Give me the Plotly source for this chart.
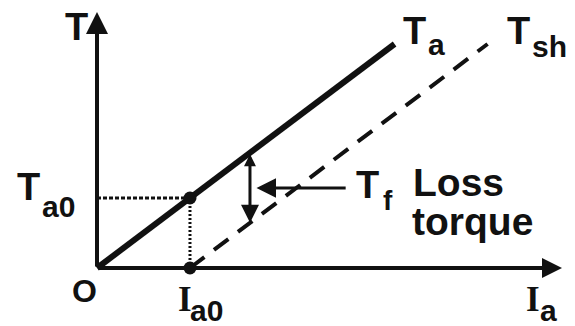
import numpy as np
import plotly.graph_objects as go

# ---- characteristic data (per-unit: Ia0 = 1, Ta0 = 1) ----
IA0 = 1.0                      # no-load armature current
TA0 = 1.0                      # developed torque at no load
K = TA0 / IA0                  # torque constant (slope of Ta = K * Ia)
TF = K * IA0                   # constant loss torque Tf
ia_ta = np.array([0.0, 3.2])   # extent of the developed-torque line Ta
ia_sh = np.array([1.0, 4.2])   # extent of the shaft-torque line Tsh
ia_tf = 1.645                  # where the loss-torque bracket is drawn
T_AXIS_MAX = 3.657
IA_AXIS_MAX = 5.0

ta = K * ia_ta
tsh = K * ia_sh - TF

W, H = 575, 326
X_RANGE = [-1.043, 5.140]
Y_RANGE = [-0.829, 3.829]

INK = "#111111"
SANS = "Liberation Sans, Arial, sans-serif"
SERIF = "Liberation Serif, Times New Roman, serif"


def paper(px, py):
    """pixel position -> paper coordinates"""
    return px / W, 1 - py / H


fig = go.Figure()

# dotted guides to the no-load operating point
fig.add_trace(go.Scatter(x=[0, IA0], y=[TA0, TA0], mode="lines",
                         line=dict(color=INK, width=3, dash="4px,2px")))
fig.add_trace(go.Scatter(x=[IA0, IA0], y=[0, TA0], mode="lines",
                         line=dict(color=INK, width=3, dash="2px,2px")))

# developed torque Ta (solid) and shaft torque Tsh (dashed)
fig.add_trace(go.Scatter(x=ia_ta, y=ta, mode="lines",
                         line=dict(color=INK, width=6)))
fig.add_trace(go.Scatter(x=ia_sh, y=tsh, mode="lines",
                         line=dict(color=INK, width=4, dash="18px,12px")))

# operating points
fig.add_trace(go.Scatter(x=[IA0, IA0], y=[TA0, 0], mode="markers",
                         marker=dict(color=INK, size=13)))

annotations = []

# axes with arrowheads
annotations.append(dict(x=0, y=T_AXIS_MAX, ax=0, ay=0, xref="x", yref="y",
                        axref="x", ayref="y", showarrow=True, text="",
                        arrowhead=2, arrowsize=1.1, arrowwidth=4, arrowcolor=INK))
annotations.append(dict(x=IA_AXIS_MAX, y=0, ax=0, ay=0, xref="x", yref="y",
                        axref="x", ayref="y", showarrow=True, text="",
                        arrowhead=2, arrowsize=1.0, arrowwidth=4, arrowcolor=INK))

# loss-torque bracket between Ta and Tsh
annotations.append(dict(x=ia_tf, y=K * ia_tf - TF, ax=ia_tf, ay=K * ia_tf,
                        xref="x", yref="y", axref="x", ayref="y",
                        showarrow=True, text="", arrowhead=2, arrowsize=1.2,
                        arrowwidth=3, arrowside="end+start",
                        startarrowhead=2, startarrowsize=0.8, arrowcolor=INK))
# leader from the Tf label
annotations.append(dict(x=ia_tf + 0.07, y=TF + 0.143, ax=2.69, ay=TF + 0.143,
                        xref="x", yref="y", axref="x", ayref="y",
                        showarrow=True, text="", arrowhead=2, arrowsize=1.3,
                        arrowwidth=3, arrowcolor=INK))


def label(text, px, py, size, anchor="center", family=SANS, box_h=None):
    x, y = paper(px, py)
    ann = dict(x=x, y=y, xref="paper", yref="paper", text=text,
               showarrow=False, xanchor=anchor, yanchor="middle",
               font=dict(family=family, size=size, color=INK, weight="bold"))
    if box_h:
        ann["height"] = box_h
        ann["valign"] = "middle"
    annotations.append(ann)


MAIN, SUB = 38, 30

label("T", 76, 27.5, MAIN)
label("T", 28, 186.5, MAIN)
label("a0", 40, 206.5, SUB, "left")
label("O", 84, 291, 32)
label("I", 185, 299.5, 35, family=SERIF)
label("a0", 188, 310.5, SUB, "left")
label("I", 532.5, 299.5, 35, family=SERIF)
label("a", 538, 310.5, SUB, "left")
label("T", 414, 30.5, MAIN)
label("a", 426, 44.5, SUB, "left")
label("T", 518, 30.5, MAIN)
label("sh", 530, 46.5, SUB, "left")
label("T", 367, 185, MAIN)
label("f", 381, 200, 28, "left")
# "Loss" has no descenders, so its box can be trimmed to the cap height
label("Loss", 411, 182.5, 39, "left", box_h=31)
label("torque", 410, 221, 39, "left")

fig.update_layout(
    width=W, height=H, autosize=False,
    margin=dict(l=0, r=0, t=0, b=0, pad=0),
    paper_bgcolor="white", plot_bgcolor="white",
    showlegend=False,
    xaxis=dict(range=X_RANGE, visible=False, fixedrange=True),
    yaxis=dict(range=Y_RANGE, visible=False, fixedrange=True),
    annotations=annotations,
)

fig.write_html("out.html", include_plotlyjs=True, config={"displayModeBar": False})
